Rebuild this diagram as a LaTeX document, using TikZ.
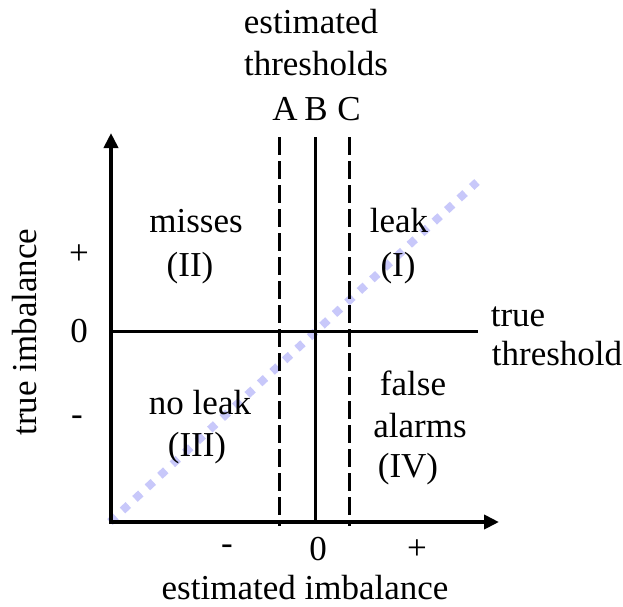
\documentclass[tikz,border=0pt]{standalone}
\usepackage{fontspec}
\setmainfont{Liberation Serif}
\usetikzlibrary{arrows.meta}
\definecolor{lav}{RGB}{200,200,250}
\begin{document}
\begin{tikzpicture}[x=1pt,y=-1pt,
  lbl/.style={anchor=mid,inner sep=0pt,font=\fontsize{35}{42}\selectfont},
  sym/.style={anchor=center,inner sep=0pt,font=\fontsize{35}{42}\selectfont},
  axis/.style={line width=3.8pt,-{Triangle[length=15pt,width=14pt]}},
  solidline/.style={line width=3pt},
  dashline/.style={line width=3pt,dash pattern=on 18pt off 6pt},
  diag/.style={line width=8pt,color=lav,dash pattern=on 8pt off 9pt}]
\useasboundingbox (0,0) rectangle (623,606);
% coordinates
\coordinate (O) at (111,522);
\coordinate (ytop) at (111,133);
\coordinate (xend) at (499,522);
\coordinate (thL) at (111,331);
\coordinate (thR) at (478,331);
\coordinate (Btop) at (315,137);
\coordinate (Bbot) at (315,522);
\coordinate (Atop) at (279,137);
\coordinate (Abot) at (279,526);
\coordinate (Ctop) at (349,137);
\coordinate (Cbot) at (349,526);
\coordinate (dS) at (110,522);
\coordinate (dE) at (477,182);
% diagonal
\draw[diag] (dS) -- (dE);
% lines
\draw[solidline] (thL) -- (thR);
\draw[solidline] (Btop) -- (Bbot);
\draw[dashline] (Atop) -- (Abot);
\draw[dashline] (Ctop) -- (Cbot);
\draw[axis] (O) -- (ytop);
\draw[axis] ([xshift=-1.9pt]O) -- (xend);
% labels
\node[lbl] (est) at (311,31) {estimated};
\node[lbl] (thr) at (316,73) {thresholds};
\node[lbl] (A) at (285,118) {A};
\node[lbl] (B) at (316,118) {B};
\node[lbl] (C) at (349,118) {C};
\node[lbl] (mis) at (196,230) {misses};
\node[lbl] (II) at (190,274) {(II)};
\node[lbl] (leak) at (399,230) {leak};
\node[lbl] (I) at (398,274) {(I)};
\node[sym] (yp) at (79,255) {+};
\node[sym] (y0) at (79,331) {0};
\node[sym] (ym) at (77,421) {-};
\node[lbl] (tr) at (518,324) {true};
\node[lbl] (th) at (557,363) {threshold};
\node[lbl] (nl) at (200,412) {no leak};
\node[lbl] (III) at (197,454) {(III)};
\node[lbl] (fa) at (413,393) {false};
\node[lbl] (al) at (420,435) {alarms};
\node[lbl] (IV) at (408,475) {(IV)};
\node[sym] (xm) at (227,550) {-};
\node[sym] (x0) at (318,549) {0};
\node[sym] (xp) at (417,550) {+};
\node[lbl] (ei) at (305,597) {estimated imbalance};
\node[lbl,rotate=90] (ti) at (34,332) {true imbalance};
\end{tikzpicture}
\end{document}
